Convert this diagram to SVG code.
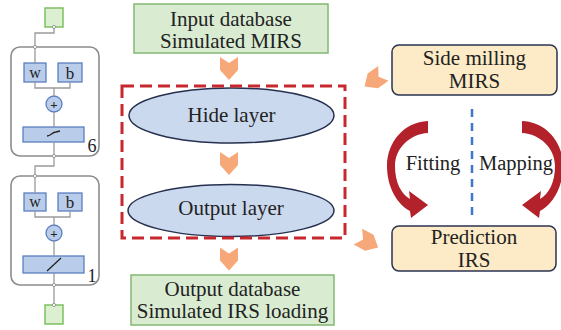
<svg xmlns="http://www.w3.org/2000/svg" width="561" height="330" viewBox="0 0 561 330">
<defs>
<style>
.t{font-family:"Liberation Serif","Times New Roman",serif;fill:#222;text-anchor:middle}
.big{font-size:21px}
.green{fill:#d9ecd2;stroke:#82b872;stroke-width:1.5}
.yel{fill:#fcebc6;stroke:#2b3352;stroke-width:1.5}
.ell{fill:#cbd9ee;stroke:#26304f;stroke-width:1.5}
.blk{fill:#fff;stroke:#8c8c8c;stroke-width:1.6}
.nb{fill:#b9cce9;stroke:#5b7fc0;stroke-width:1.3}
.ln{fill:none;stroke:#9a9a9a;stroke-width:1.3}
.sq{fill:#dcefd0;stroke:#7cc060;stroke-width:1.5}
.chev{fill:#f7a879}
.red{fill:#b3212a}
</style>
<polygon id="chev" points="-9,-11.5 0,-5.5 9,-11.5 9,1.5 0,11.5 -9,1.5"/>
</defs>
<rect width="561" height="330" fill="#fff"/>

<!-- Left network -->
<g id="net-in"><rect class="sq" x="45" y="8" width="18" height="19"/></g>
<g id="block6">
<rect class="blk" x="11" y="47" width="88" height="109" rx="9"/>
<rect class="nb" x="24" y="63" width="22" height="19"/>
<text class="t" x="35" y="78" font-size="16">w</text>
<rect class="nb" x="58" y="63" width="24" height="19"/>
<text class="t" x="70" y="79" font-size="17">b</text>
<circle class="nb" cx="54" cy="104" r="8"/>
<text class="t" x="54" y="108.5" font-size="13" font-weight="bold">+</text>
<rect class="nb" x="23" y="127" width="61" height="15"/>
<path d="M47,136 C51,136 52,132 56,132 L60,131" fill="none" stroke="#222" stroke-width="1.3"/>
<text class="t" x="92" y="152" font-size="18">6</text>
</g>
<g id="block1">
<rect class="blk" x="11" y="176" width="88" height="109" rx="9"/>
<rect class="nb" x="24" y="193" width="22" height="18"/>
<text class="t" x="35" y="207" font-size="16">w</text>
<rect class="nb" x="58" y="193" width="24" height="18"/>
<text class="t" x="70" y="208" font-size="17">b</text>
<circle class="nb" cx="54" cy="233" r="8"/>
<text class="t" x="54" y="237.5" font-size="13" font-weight="bold">+</text>
<rect class="nb" x="23" y="256" width="61" height="17"/>
<path d="M47,271 L61,258" fill="none" stroke="#222" stroke-width="1.3"/>
<text class="t" x="92" y="282" font-size="18">1</text>
</g>
<g id="net-out"><rect class="sq" x="45" y="305" width="18" height="19"/></g>

<!-- Middle column -->
<g id="input-db">
<rect class="green" x="134" y="4" width="194" height="49"/>
<text class="t big" x="231" y="26">Input database</text>
<text class="t big" x="231" y="48">Simulated MIRS</text>
</g>
<g id="hide-layer">
<ellipse class="ell" cx="231.5" cy="115.5" rx="102.5" ry="27.5"/>
<text class="t big" x="231.5" y="122">Hide layer</text>
</g>
<g id="output-layer">
<ellipse class="ell" cx="231" cy="210.5" rx="103" ry="26"/>
<text class="t big" x="231" y="215">Output layer</text>
</g>
<g id="output-db">
<rect class="green" x="131" y="275" width="203" height="50"/>
<text class="t big" x="232.5" y="296">Output database</text>
<text class="t big" x="232.5" y="318">Simulated IRS loading</text>
</g>

<!-- Right column -->
<g id="side-milling">
<rect class="yel" x="392" y="45" width="165" height="50" rx="7"/>
<text class="t big" x="474.5" y="65">Side milling</text>
<text class="t big" x="474.5" y="88">MIRS</text>
</g>
<g id="prediction">
<rect class="yel" x="392" y="226" width="164" height="45" rx="7"/>
<text class="t big" x="474" y="244">Prediction</text>
<text class="t big" x="474" y="267">IRS</text>
</g>
<g id="labels">
<text class="t" x="433" y="170" font-size="20.5">Fitting</text>
<text class="t" x="516" y="170" font-size="20.5">Mapping</text>
</g>

<!-- Connectors -->
<g id="connectors">
<path class="ln" d="M54,27 V33 H35 V63"/>
<path class="ln" d="M35,82 V88 H70 V82 M54,88 V96 M54,112 V127"/>
<path class="ln" d="M54,142 V166 H35 V193"/>
<path class="ln" d="M35,211 V217 H70 V211 M54,217 V225 M54,241 V256"/>
<path class="ln" d="M54,273 V305"/>
<g fill="#fff" stroke="#9a9a9a" stroke-width="1">
<circle cx="54" cy="27" r="1.6"/><circle cx="35" cy="47" r="1.6"/><circle cx="54" cy="156" r="1.6"/>
<circle cx="35" cy="176" r="1.6"/><circle cx="54" cy="285" r="1.6"/><circle cx="54" cy="305" r="1.6"/>
</g>
<rect x="122" y="86" width="223" height="152" fill="none" stroke="#c8282d" stroke-width="3" stroke-dasharray="12 6"/>
<use href="#chev" class="chev" transform="translate(229,68.5)"/>
<use href="#chev" class="chev" transform="translate(229,163.5)"/>
<use href="#chev" class="chev" transform="translate(229,259)"/>
<use href="#chev" class="chev" transform="translate(374,80) rotate(55)"/>
<use href="#chev" class="chev" transform="translate(368,242) rotate(-62)"/>
<line x1="472" y1="109" x2="472" y2="215" stroke="#3d78c8" stroke-width="2.5" stroke-dasharray="8 6"/>
<path id="fitarrow" class="red" d="M428,121 C404,122 387,142 387,166 C387,188 398,205 410,211 L411,218 L428,205 L409,191 L410,199 C401,194 395,182 395,166 C395,148 410,134 428,133 Z"/>
<use href="#fitarrow" transform="translate(950,0) scale(-1,1)"/>
</g>
</svg>
